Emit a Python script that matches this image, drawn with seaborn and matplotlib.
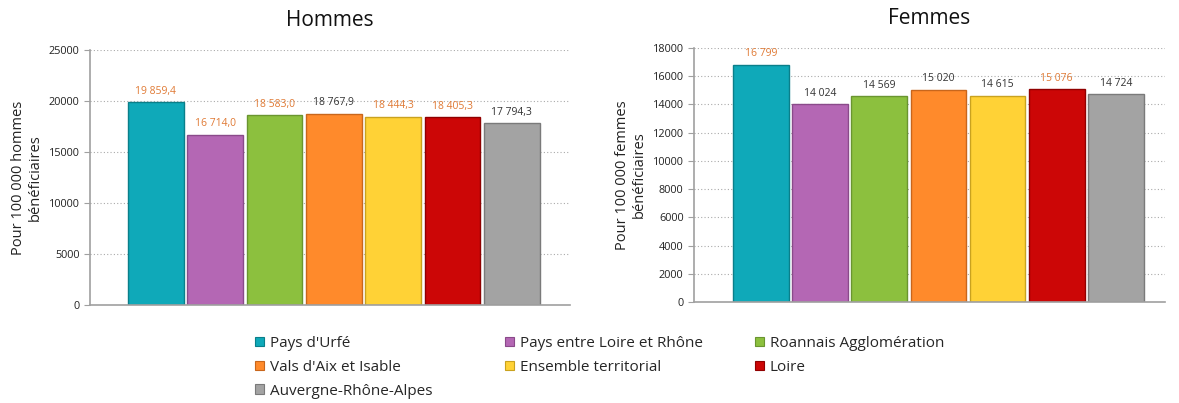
import matplotlib
matplotlib.use("Agg")
from matplotlib import pyplot as plt
import seaborn as sns
import numpy as np

## data
territoires = ["Pays d'Urfé", "Pays entre Loire et Rhône", "Roannais Agglomération",
               "Vals d'Aix et Isable", "Ensemble territorial", "Loire",
               "Auvergne-Rhône-Alpes"]
hommes = [19859.4, 16714.0, 18583.0, 18767.9, 18444.3, 18405.3, 17794.3]
femmes = [16799, 14024, 14569, 15020, 14615, 15076, 14724]
# True = label drawn in orange
hommes_orange = [True, True, True, False, True, True, False]
femmes_orange = [True, False, False, False, False, True, False]

couleurs = ["#0FA9B9", "#B467B4", "#8CC03E", "#FF8A2B", "#FFD236", "#CC0606", "#A3A3A3"]
bords = ["#0A7F8A", "#8A4A8A", "#6A9530", "#C8661C", "#C9A21F", "#900000", "#7A7A7A"]

sns.set_style("white")
plt.rcParams['font.family'] = ['Open Sans', 'DejaVu Sans']


def fr_format(v, dec):
    s = f"{v:,.{dec}f}"
    return s.replace(",", " ").replace(".", ",")


def plot_panel(ax, values, orange, dec, title, ylabel, ymax, ystep, xlim):
    sns.barplot(x=territoires, y=values, hue=territoires, palette=couleurs,
                order=territoires, hue_order=territoires, dodge=False,
                width=0.94, saturation=1, legend=False, ax=ax)
    for p, b in zip(ax.patches, bords):
        p.set_edgecolor(b)
        p.set_linewidth(1.0)
    for cont, v, o in zip(ax.containers, values, orange):
        ax.bar_label(cont, labels=[fr_format(v, dec)], padding=4, fontsize=7.5,
                     color="#E07A35" if o else "#333333")
    ax.set_ylim(0, ymax)
    ax.set_yticks(np.arange(0, ymax + 1, ystep))
    ax.set_xlim(*xlim)
    ax.set_xticks([])
    ax.set_xlabel("")
    ax.set_ylabel(ylabel, fontsize=10.5, color="#222222")
    ax.set_title(title, fontsize=15, color="#111111", pad=17)
    ax.yaxis.grid(True, linestyle=(0, (1, 2)), color="#AAAAAA", linewidth=0.8)
    ax.set_axisbelow(True)
    for s in ["top", "right"]:
        ax.spines[s].set_visible(False)
    for s in ["left", "bottom"]:
        ax.spines[s].set_color("#A0A0A0")
        ax.spines[s].set_linewidth(1.2)
    ax.tick_params(axis="y", labelsize=7.8, length=4, color="#A0A0A0",
                   labelcolor="#222222", left=True)


fig = plt.figure(figsize=(11.79, 4.03), dpi=100)
ax1 = fig.add_axes([90 / 1179, 1 - 305 / 403, 480 / 1179, 255 / 403])
ax2 = fig.add_axes([694 / 1179, 1 - 302 / 403, 471 / 1179, 254 / 403])

plot_panel(ax1, hommes, hommes_orange, 1, "Hommes",
           "Pour 100 000 hommes\nbénéficiaires", 25000, 5000, (-1.11, 6.98))
plot_panel(ax2, femmes, femmes_orange, 0, "Femmes",
           "Pour 100 000 femmes\nbénéficiaires", 18000, 2000, (-1.13, 6.83))

## legend: three columns, filled row by row
handles = [plt.Rectangle((0, 0), 1, 1, facecolor=c, edgecolor=b, linewidth=0.8)
           for c, b in zip(couleurs, bords)]
col_x = [255, 505, 755]
for k, x in enumerate(col_x):
    idx = list(range(k, len(territoires), 3))
    fig.legend([handles[i] for i in idx], [territoires[i] for i in idx],
               loc="upper left", bbox_to_anchor=(x / 1179, 1 - 336 / 403),
               frameon=False, fontsize=11, handlelength=0.6, handleheight=0.6,
               handletextpad=0.35, labelspacing=0.58,
               borderaxespad=0, borderpad=0)

fig.savefig("out.png", dpi=100)
